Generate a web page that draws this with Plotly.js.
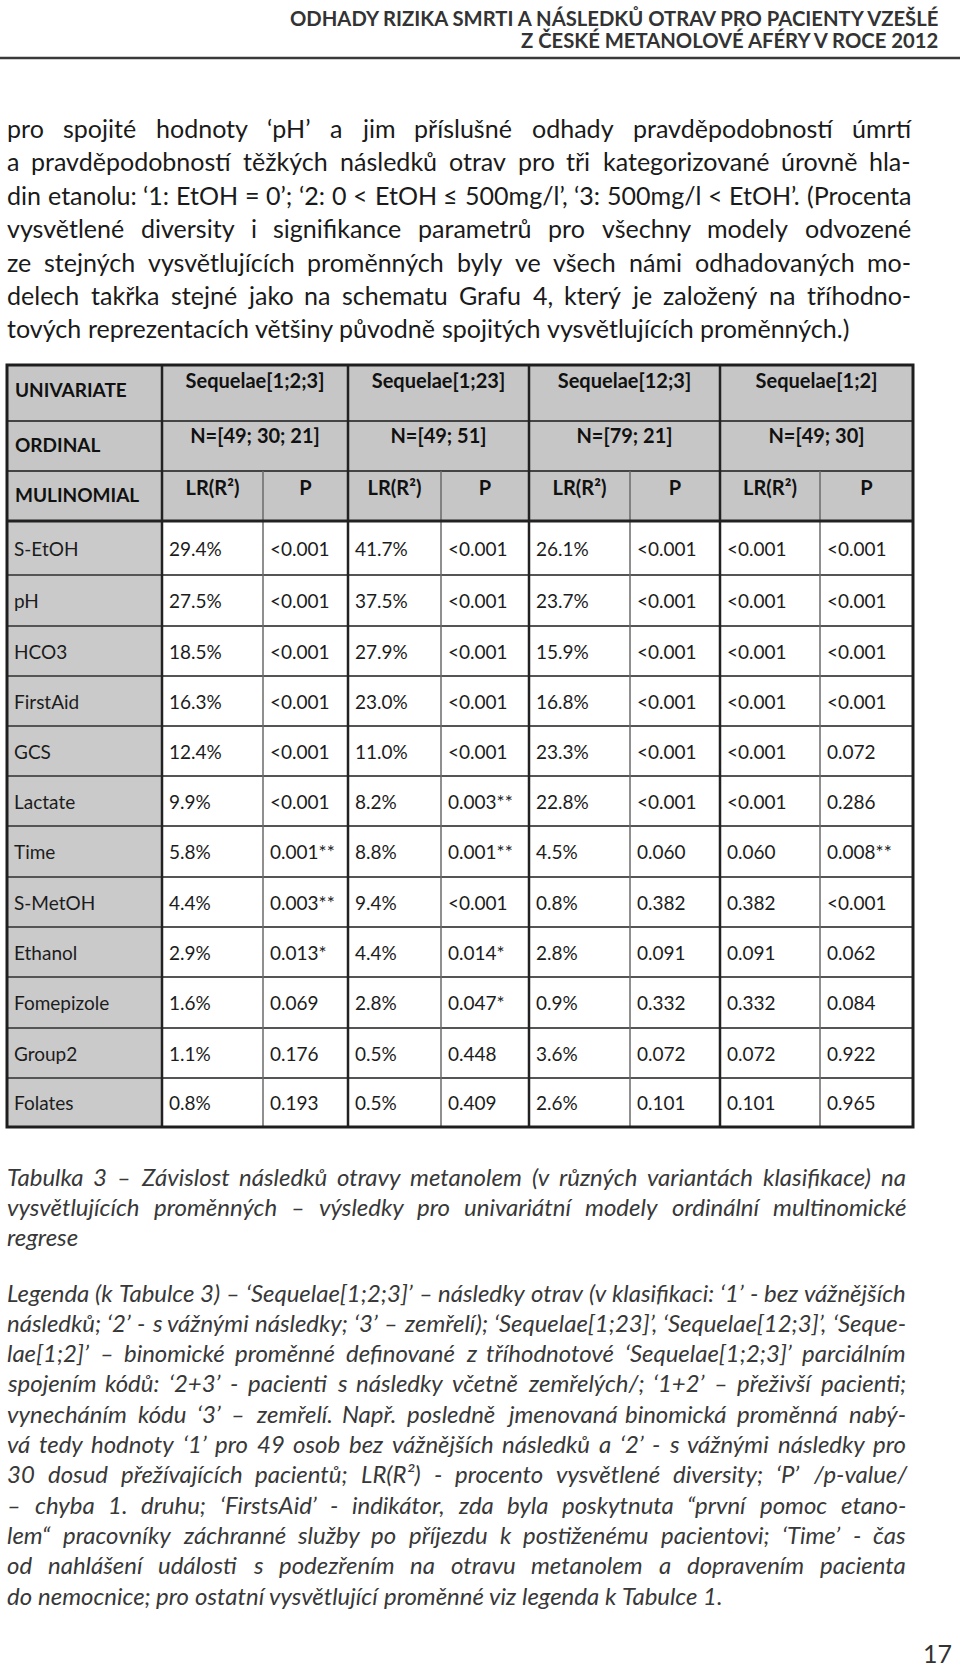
<!DOCTYPE html>
<html>
<head>
<meta charset="utf-8">
<script src="https://cdn.plot.ly/plotly-3.0.1.min.js"></script>
<style>
  body { margin: 0; background: #fff; }
</style>
</head>
<body>
<div id="plot" style="width:960px;height:1669px"></div>
<script>
/* Tabulka 3 - univariate ordinal multinomial models */

var groups = ['Sequelae[1;2;3]', 'Sequelae[1;23]', 'Sequelae[12;3]', 'Sequelae[1;2]'];
var groupN = ['N=[49; 30; 21]', 'N=[49; 51]', 'N=[79; 21]', 'N=[49; 30]'];
var rowHeads = ['UNIVARIATE', 'ORDINAL', 'MULINOMIAL'];
var subHeads = ['LR(R²)', 'P'];

var variables = ['S-EtOH', 'pH', 'HCO3', 'FirstAid', 'GCS', 'Lactate', 'Time', 'S-MetOH',
                 'Ethanol', 'Fomepizole', 'Group2', 'Folates'];

var lr123  = ['29.4%', '27.5%', '18.5%', '16.3%', '12.4%', '9.9%', '5.8%', '4.4%', '2.9%', '1.6%', '1.1%', '0.8%'];
var p123   = ['<0.001', '<0.001', '<0.001', '<0.001', '<0.001', '<0.001', '0.001**', '0.003**', '0.013*', '0.069', '0.176', '0.193'];
var lr1_23 = ['41.7%', '37.5%', '27.9%', '23.0%', '11.0%', '8.2%', '8.8%', '9.4%', '4.4%', '2.8%', '0.5%', '0.5%'];
var p1_23  = ['<0.001', '<0.001', '<0.001', '<0.001', '<0.001', '0.003**', '0.001**', '<0.001', '0.014*', '0.047*', '0.448', '0.409'];
var lr12_3 = ['26.1%', '23.7%', '15.9%', '16.8%', '23.3%', '22.8%', '4.5%', '0.8%', '2.8%', '0.9%', '3.6%', '2.6%'];
var p12_3  = ['<0.001', '<0.001', '<0.001', '<0.001', '<0.001', '<0.001', '0.060', '0.382', '0.091', '0.332', '0.072', '0.101'];
var lr1_2  = ['<0.001', '<0.001', '<0.001', '<0.001', '<0.001', '<0.001', '0.060', '0.382', '0.091', '0.332', '0.072', '0.101'];
var p1_2   = ['<0.001', '<0.001', '<0.001', '<0.001', '0.072', '0.286', '0.008**', '<0.001', '0.062', '0.084', '0.922', '0.965'];

var valueCols = [lr123, p123, lr1_23, p1_23, lr12_3, p12_3, lr1_2, p1_2];

var runningHead = ['ODHADY RIZIKA SMRTI A NÁSLEDKŮ OTRAV PRO PACIENTY VZEŠLÉ',
                   'Z ČESKÉ METANOLOVÉ AFÉRY V ROCE 2012'];

var introLines = [
  'pro spojité hodnoty ‘pH’ a jim příslušné odhady pravděpodobností úmrtí',
  'a pravděpodobností těžkých následků otrav pro tři kategorizované úrovně hla-',
  'din etanolu: ‘1: EtOH = 0’; ‘2: 0 < EtOH ≤ 500mg/l’, ‘3: 500mg/l < EtOH’. (Procenta',
  'vysvětlené diversity i signifikance parametrů pro všechny modely odvozené',
  'ze stejných vysvětlujících proměnných byly ve všech námi odhadovaných mo-',
  'delech takřka stejné jako na schematu Grafu 4, který je založený na tříhodno-',
  'tových reprezentacích většiny původně spojitých vysvětlujících proměnných.)'
];

var captionLines = [
  'Tabulka 3 – Závislost následků otravy metanolem (v různých variantách klasifikace) na',
  'vysvětlujících proměnných – výsledky pro univariátní modely ordinální multinomické',
  'regrese'
];

var legendLines = [
  'Legenda (k Tabulce 3) – ‘Sequelae[1;2;3]’ – následky otrav (v klasifikaci: ‘1’ - bez vážnějších',
  'následků; ‘2’ - s vážnými následky; ‘3’ – zemřelí); ‘Sequelae[1;23]’, ‘Sequelae[12;3]’, ‘Seque-',
  'lae[1;2]’ – binomické proměnné definované z tříhodnotové ‘Sequelae[1;2;3]’ parciálním',
  'spojením kódů: ‘2+3’ - pacienti s následky včetně zemřelých/; ‘1+2’ – přeživší pacienti;',
  'vynecháním kódu ‘3’ – zemřelí. Např. posledně jmenovaná binomická proměnná nabý-',
  'vá tedy hodnoty ‘1’ pro 49 osob bez vážnějších následků a ‘2’ - s vážnými následky pro',
  '30 dosud přežívajících pacientů; LR(R²) - procento vysvětlené diversity; ‘P’ /p-value/',
  '– chyba 1. druhu; ‘FirstsAid’ - indikátor, zda byla poskytnuta “první pomoc etano-',
  'lem“ pracovníky záchranné služby po příjezdu k postiženému pacientovi; ‘Time’ - čas',
  'od nahlášení události s podezřením na otravu metanolem a dopravením pacienta',
  'do nemocnice; pro ostatní vysvětlující proměnné viz legenda k Tabulce 1.'
];

var pageNumber = '17';

/* ---- page geometry (pixels) ---- */
var W = 960, H = 1669;
var colEdges = [7, 162, 263, 348, 441, 529, 630, 720, 820, 913];
var headEdges = [365, 421, 471, 521];
var rowEdges = [521, 575, 626, 676, 726, 776, 826, 877, 927, 977, 1028, 1078, 1127];
var headTextY = [383, 438, 490];

var BODY = 'Lato, "Open Sans", sans-serif';
var INK = '#1c1c1c';

function esc(s) { return s.replace(/</g, '&lt;').replace(/>/g, '&gt;'); }
function mid(a, b) { return (a + b) / 2; }

var ctx = document.createElement('canvas').getContext('2d');
function measure(s, f) {
  ctx.font = (f.style || 'normal') + ' ' + (f.weight || 'normal') + ' ' + f.size + 'px ' + f.family;
  return ctx.measureText(s).width;
}

var annotations = [];

function addText(x, y, s, f, anchor, vanchor) {
  annotations.push({
    xref: 'x', yref: 'y', x: x, y: y, text: esc(s), showarrow: false,
    xanchor: anchor || 'left', yanchor: vanchor || 'middle', borderpad: 0, borderwidth: 0, font: f
  });
}

// justified paragraph, one annotation per word; the font is scaled so the
// widest justified line sets with ordinary word spacing
function paragraph(lines, x0, x1, y0, dy, font, maxSize) {
  var widest = 0;
  lines.forEach(function (ln, i) {
    if (i === lines.length - 1) return;
    widest = Math.max(widest, measure(ln, font));
  });
  var size = Math.min(maxSize, font.size * (x1 - x0) / widest * 0.995);
  var f = Object.assign({}, font, {size: size});
  var space = measure(' ', f);
  lines.forEach(function (ln, i) {
    var words = ln.split(' ');
    var widths = words.map(function (w) { return measure(w, f); });
    var total = widths.reduce(function (a, b) { return a + b; }, 0);
    var gap = (i < lines.length - 1 && words.length > 1) ? (x1 - x0 - total) / (words.length - 1) : space;
    var x = x0;
    words.forEach(function (w, k) {
      addText(x, y0 + i * dy, w, f);
      x += widths[k] + gap;
    });
  });
}

/* running head, sized to its printed width */
var headFont = {family: BODY, weight: 'bold', size: 20, color: '#333'};
headFont.size = 20 * 654 / measure(runningHead[0], headFont);
addText(938, 18, runningHead[0], headFont, 'right');
addText(938, 40, runningHead[1], headFont, 'right');

paragraph(introLines, 7, 911, 128, 33.4, {family: BODY, size: 23, color: '#1a1a1a'}, 25.5);
paragraph(captionLines, 7, 906, 1176, 30.4, {family: BODY, size: 22, style: 'italic', color: '#383838'}, 24);
paragraph(legendLines, 7, 906, 1292, 30.3, {family: BODY, size: 22, style: 'italic', color: '#383838'}, 24);

addText(952, 1668, pageNumber, {family: BODY, size: 25, color: '#333'}, 'right', 'bottom');

/* ---- table shapes ---- */
var shapes = [];
function rect(x0, y0, x1, y1, fill) {
  shapes.push({type: 'rect', xref: 'x', yref: 'y', x0: x0, x1: x1, y0: y0, y1: y1,
               fillcolor: fill, line: {width: 0}, layer: 'below'});
}
function line(x0, y0, x1, y1, w, c) {
  shapes.push({type: 'line', xref: 'x', yref: 'y', x0: x0, x1: x1, y0: y0, y1: y1,
               line: {width: w, color: c}});
}

var L = colEdges[0], R = colEdges[colEdges.length - 1];
var T = headEdges[0], B = rowEdges[rowEdges.length - 1];

rect(L, T, R, headEdges[3], '#c6c6c6');
rect(L, rowEdges[0], colEdges[1], B, '#cacaca');

// rule under running head
line(0, 58, W, 58, 2.5, '#3a3a3a');

// data row separators
for (var r = 1; r < rowEdges.length - 1; r++) line(L, rowEdges[r], R, rowEdges[r], 2, '#555');
// header row separators
line(L, headEdges[1], R, headEdges[1], 2, '#444');
line(L, headEdges[2], R, headEdges[2], 2, '#444');
// sub-column splits
for (var g = 0; g < groups.length; g++) {
  var xs = colEdges[2 + 2 * g];
  line(xs, headEdges[2], xs, B, 1.5, '#6a6a6a');
}
// group boundaries
for (var g2 = 0; g2 < groups.length; g2++) {
  var xg = colEdges[1 + 2 * g2];
  line(xg, T, xg, B, 2.5, '#222');
}
// heavy line under header
line(L, headEdges[3], R, headEdges[3], 3, '#222');
// outer frame
shapes.push({type: 'rect', xref: 'x', yref: 'y', x0: L, x1: R, y0: T, y1: B,
             line: {width: 3, color: '#1e1e1e'}, fillcolor: 'rgba(0,0,0,0)'});

/* ---- table text through scatter traces ---- */
var rowMid = [];
for (var i = 0; i < variables.length; i++) rowMid.push(mid(rowEdges[i], rowEdges[i + 1]) + 3);

var cellFont = {family: BODY, size: 19, color: INK};
var headCell = {family: BODY, size: 20, color: '#111', weight: 'bold'};
var rowHeadCell = {family: BODY, size: 19, color: '#111', weight: 'bold'};

function textTrace(x, y, text, pos, f) {
  return {type: 'scatter', mode: 'text', x: x, y: y, text: text.map(esc),
          textposition: pos, textfont: f, hoverinfo: 'skip', cliponaxis: false, showlegend: false};
}

var data = [];

// row labels of the header block
data.push(textTrace(rowHeads.map(function () { return L + 8; }),
  [mid(headEdges[0], headEdges[1]) - 1, mid(headEdges[1], headEdges[2]) + 1, mid(headEdges[2], headEdges[3]) + 1],
  rowHeads, 'middle right', rowHeadCell));

// group names and counts
var gMid = groups.map(function (s, g) { return mid(colEdges[1 + 2 * g], colEdges[3 + 2 * g]); });
data.push(textTrace(gMid, groups.map(function () { return headTextY[0]; }), groups, 'middle center', headCell));
data.push(textTrace(gMid, groups.map(function () { return headTextY[1]; }), groupN, 'middle center', headCell));

// LR(R²) / P sub heads
var subX = [], subY = [], subT = [];
for (var c = 0; c < valueCols.length; c++) {
  subX.push(mid(colEdges[1 + c], colEdges[2 + c]));
  subY.push(headTextY[2]);
  subT.push(subHeads[c % 2]);
}
data.push(textTrace(subX, subY, subT, 'middle center', headCell));

// variable names
data.push(textTrace(variables.map(function () { return L + 7; }), rowMid, variables, 'middle right', cellFont));

// values
valueCols.forEach(function (col, c) {
  data.push(textTrace(col.map(function () { return colEdges[1 + c] + 7; }), rowMid, col, 'middle right', cellFont));
});

var layout = {
  width: W, height: H,
  margin: {l: 0, r: 0, t: 0, b: 0, pad: 0},
  paper_bgcolor: '#fff', plot_bgcolor: '#fff',
  showlegend: false,
  xaxis: {range: [0, W], visible: false, fixedrange: true},
  yaxis: {range: [H, 0], visible: false, fixedrange: true},
  shapes: shapes,
  annotations: annotations
};

Plotly.newPlot('plot', data, layout, {staticPlot: true, displayModeBar: false});
</script>
</body>
</html>
